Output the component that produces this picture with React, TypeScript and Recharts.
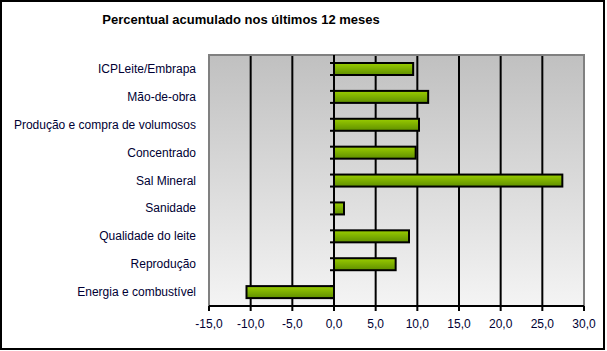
import { BarChart, Bar, XAxis, YAxis, CartesianGrid, ReferenceArea, ReferenceLine } from 'recharts';

const categorias = [
  'ICPLeite/Embrapa',
  'Mão-de-obra',
  'Produção e  compra de volumosos',
  'Concentrado',
  'Sal Mineral',
  'Sanidade',
  'Qualidade do leite',
  'Reprodução',
  'Energia e combustível',
];

const valores = [9.5, 11.3, 10.2, 9.8, 27.4, 1.2, 9.0, 7.4, -10.5];

const ticksX = [-15, -10, -5, 0, 5, 10, 15, 20, 25, 30];

const data = categorias.map((name, i) => ({ name, valor: valores[i] }));

const fonte = 'Arial, "Liberation Sans", sans-serif';
const corTexto = '#000033';

// barra com degradê + tracinho do eixo de categorias (entre categorias, no zero)
const BarraShape = (props: any) => {
  const { x, y, width, height, background, value } = props;
  const esq = Math.min(x, x + width);
  const dir = Math.max(x, x + width);
  const v = Array.isArray(value) ? value[1] - value[0] : value;
  const zeroX = v >= 0 ? esq : dir;
  const bg = background || { y: y - 8, height: height + 16 };
  const tickY = bg.y + bg.height;
  return (
    <g>
      <rect x={esq} y={y} width={dir - esq} height={height} fill="url(#barra)" stroke="#000" strokeWidth={2} />
      <line x1={zeroX - 4} x2={zeroX} y1={bg.y} y2={bg.y} stroke="#000" strokeWidth={2} />
      <line x1={zeroX - 4} x2={zeroX} y1={tickY} y2={tickY} stroke="#000" strokeWidth={2} />
    </g>
  );
};

const CategoriaTick = (props: any) => {
  const { x, y, payload } = props;
  return (
    <text x={x} y={y} textAnchor="end" dominantBaseline="central" fontSize={12} fill={corTexto} fontFamily={fonte}>
      {payload.value}
    </text>
  );
};

export default function App() {
  return (
    <div
      style={{
        position: 'fixed',
        left: 0,
        top: 0,
        width: 601,
        height: 346,
        border: '2px solid #000',
        background: '#fff',
        fontFamily: fonte,
      }}
    >
      <div
        style={{
          position: 'absolute',
          left: 0,
          width: 478,
          top: 10,
          textAlign: 'center',
          fontSize: 13,
          fontWeight: 'bold',
          color: '#000',
        }}
      >
        Percentual acumulado nos últimos 12 meses
      </div>
      <BarChart
        width={601}
        height={346}
        data={data}
        layout="vertical"
        margin={{ top: 53, right: 19, bottom: 12, left: 0 }}
        barSize={12}
        style={{ position: 'absolute', left: 0, top: 0 }}
      >
        <defs>
          <linearGradient id="fundo" x1="0" y1="0" x2="0" y2="1">
            <stop offset="0%" stopColor="#c0c0c0" />
            <stop offset="100%" stopColor="#f4f4f4" />
          </linearGradient>
          <linearGradient id="barra" x1="0" y1="0" x2="0" y2="1">
            <stop offset="0%" stopColor="#9acd00" />
            <stop offset="100%" stopColor="#5f8f00" />
          </linearGradient>
        </defs>
        <CartesianGrid horizontal={false} stroke="#000" strokeWidth={2} fill="url(#fundo)" fillOpacity={1} />
        <ReferenceArea x1={-15} x2={30} fill="none" stroke="#808080" strokeWidth={2} ifOverflow="visible" />
        <XAxis
          type="number"
          domain={[-15, 30]}
          ticks={ticksX}
          height={30}
          tickFormatter={(v: number) => v.toFixed(1).replace('.', ',')}
          axisLine={{ stroke: '#000', strokeWidth: 2 }}
          tickLine={{ stroke: '#000', strokeWidth: 2 }}
          tickSize={5}
          tickMargin={8}
          tick={{ fontSize: 12, fill: corTexto, fontFamily: fonte }}
        />
        <YAxis
          type="category"
          dataKey="name"
          width={207}
          axisLine={false}
          tickLine={false}
          tickMargin={7}
          interval={0}
          tick={<CategoriaTick />}
        />
        <ReferenceLine x={0} stroke="#000" strokeWidth={2} />
        <Bar dataKey="valor" isAnimationActive={false} shape={BarraShape} />
      </BarChart>
    </div>
  );
}
